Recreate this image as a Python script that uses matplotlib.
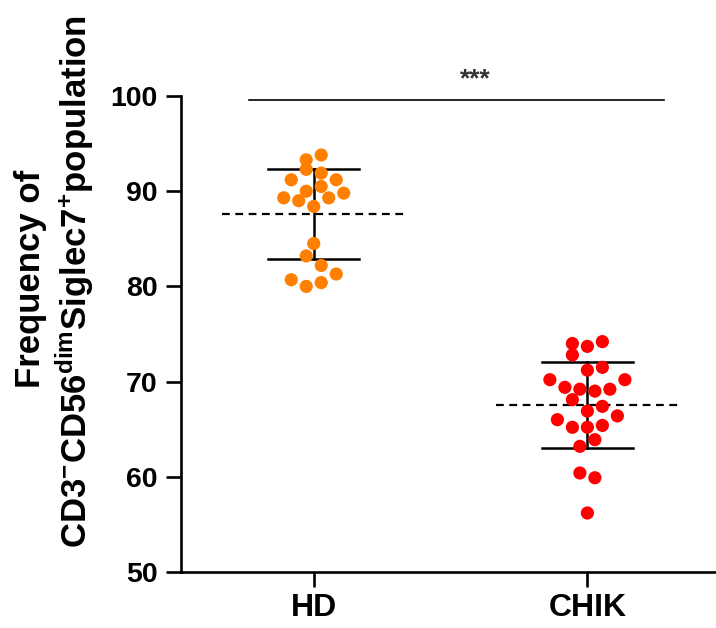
import numpy as np
import matplotlib
matplotlib.use("Agg")
import matplotlib.pyplot as plt

plt.rcParams['font.family'] = ['Liberation Sans', 'DejaVu Sans']
plt.rcParams['font.weight'] = 'bold'
plt.rcParams['mathtext.fontset'] = 'custom'
plt.rcParams['mathtext.bf'] = 'Liberation Sans:bold'
plt.rcParams['mathtext.rm'] = 'Liberation Sans:bold'
plt.rcParams['mathtext.default'] = 'bf'

# datos
grupos = ['HD', 'CHIK']
colores = ['#FF8000', '#FF0000']

hd_valores = [93.8, 93.3, 92.3, 91.2, 91.9, 91.2, 90.5, 90.0, 89.3, 89.0,
              89.3, 89.8, 88.4, 84.5, 83.2, 82.2, 80.7, 81.3, 80.4, 80.0]
hd_columna = [1, -1, -1, -3, 1, 3, 1, -1, -4, -2,
              2, 4, 0, 0, -1, 1, -3, 3, 1, -1]

chik_valores = [74.0, 73.7, 74.2, 72.8, 71.2, 71.5, 70.2, 70.2, 69.4, 69.2,
                69.0, 69.2, 68.1, 66.9, 67.4, 66.0, 66.4, 65.2, 65.2, 65.4,
                63.9, 63.2, 60.4, 59.9, 56.2]
chik_columna = [-2, 0, 2, -2, 0, 2, -5, 5, -3, -1,
                1, 3, -2, 0, 2, -4, 4, -2, 0, 2,
                1, -1, -1, 1, 0]

significancia = '***'
y_ticks = [50, 60, 70, 80, 90, 100]

fig = plt.figure(figsize=(7.16, 6.28), dpi=100)
ax = fig.add_axes([181 / 716, 56 / 628, 535 / 716, 476 / 628])

paso = 0.0274
for i, (vals, cols) in enumerate([(hd_valores, hd_columna), (chik_valores, chik_columna)]):
    vals = np.array(vals)
    xs = i + paso * np.array(cols)
    ax.scatter(xs, vals, s=90, color=colores[i], edgecolors='none', zorder=3)
    media = vals.mean()
    sd = vals.std(ddof=1)
    ax.plot([i - 0.335, i + 0.335], [media, media], color='black', lw=1.6,
            ls=(0, (3.5, 2.5)), zorder=2)
    ax.plot([i, i], [media - sd, media + sd], color='black', lw=1.8, zorder=2)
    for y in (media - sd, media + sd):
        ax.plot([i - 0.166, i + 0.166], [y, y], color='black', lw=1.8, zorder=2)

ax.plot([-0.235, 1.28], [99.6, 99.6], color='black', lw=1.2, clip_on=False)
ax.text(0.59, 100.5, significancia, ha='center', va='bottom', fontsize=19,
        color='#333333')

ax.set_xlim(-0.485, 1.47)
ax.set_ylim(50, 100)
ax.set_xticks([0, 1])
ax.set_xticklabels(grupos, fontsize=23, fontweight='bold')
ax.set_yticks(y_ticks)
ax.set_yticklabels([str(v) for v in y_ticks], fontsize=20.5, fontweight='bold')
for s in ('top', 'right'):
    ax.spines[s].set_visible(False)
for s in ('left', 'bottom'):
    ax.spines[s].set_linewidth(1.9)
ax.tick_params(axis='both', width=1.9, length=10.5)
ax.tick_params(axis='y', pad=6.5)
ax.tick_params(axis='x', pad=4.5)

fig.text(0.043, 0.556, 'Frequency of', rotation=90, ha='center', va='center',
         fontsize=25, fontweight='bold')
fig.text(0.105, 0.551, 'CD3$^{-}$CD56$^{dim}$Siglec7$^{+}$population',
         rotation=90, ha='center', va='center', fontsize=25, fontweight='bold')

fig.savefig('out.png', dpi=100)
